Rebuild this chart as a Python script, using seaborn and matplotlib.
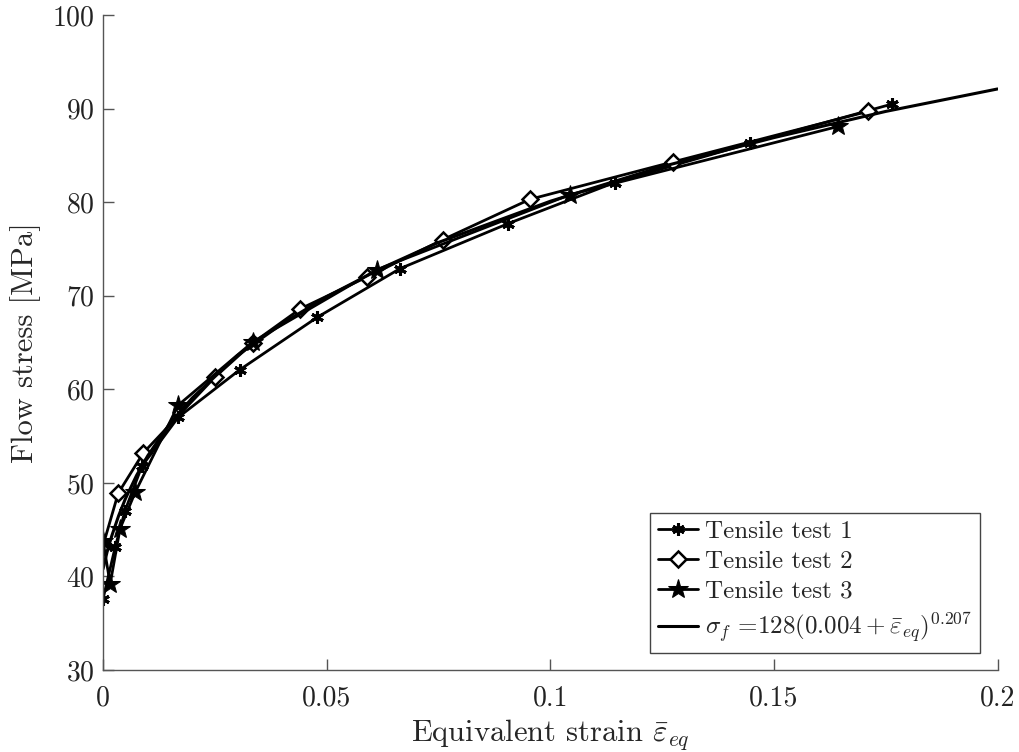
import matplotlib
matplotlib.use("Agg")
import matplotlib.pyplot as plt
import seaborn as sns

# tensile test 1 (asterisk)
strain_1 = [0.0, 0.0027, 0.0049, 0.0087, 0.0168, 0.0306, 0.0479, 0.0664, 0.0905, 0.1144, 0.1447, 0.1765]
stress_1 = [37.6, 43.1, 47.0, 51.8, 57.0, 62.1, 67.7, 72.9, 77.7, 82.1, 86.3, 90.5]

# tensile test 2 (diamond)
strain_2 = [0.0, 0.0034, 0.009, 0.025, 0.0336, 0.0441, 0.059, 0.076, 0.0954, 0.1274, 0.171]
stress_2 = [43.3, 48.9, 53.2, 61.3, 65.0, 68.6, 72.0, 76.0, 80.3, 84.3, 89.7]

# tensile test 3 (star)
strain_3 = [0.0, 0.0016, 0.0038, 0.0072, 0.0168, 0.0336, 0.0613, 0.1044, 0.1644]
stress_3 = [43.8, 39.2, 45.1, 49.0, 58.3, 65.1, 72.8, 80.8, 88.1]

# fitted flow curve
strain_fit = [0.0, 0.001, 0.002, 0.0035, 0.005, 0.0075, 0.01, 0.015, 0.02, 0.03, 0.04, 0.05,
              0.0625, 0.075, 0.1, 0.125, 0.15, 0.175, 0.2]
stress_fit = [40.8, 42.8, 44.4, 46.5, 48.3, 50.8, 52.9, 56.4, 59.1, 63.6, 67.0, 69.9,
              73.0, 75.7, 80.1, 83.8, 86.9, 89.7, 92.1]

x_ticks = [0, 0.05, 0.1, 0.15, 0.2]
x_ticklabels = ["0", "0.05", "0.1", "0.15", "0.2"]
y_ticks = [30, 40, 50, 60, 70, 80, 90, 100]

sns.set_style("ticks")
plt.rcParams["font.family"] = ["cmr10", "DejaVu Serif"]
plt.rcParams["mathtext.fontset"] = "cm"
plt.rcParams["axes.unicode_minus"] = False
plt.rcParams["axes.formatter.use_mathtext"] = True

fig = plt.figure(figsize=(10.2, 7.52), dpi=100)
ax = fig.add_axes([0.101, 0.109, 0.877, 0.871])

lw = 2.0
sns.lineplot(x=strain_1, y=stress_1, ax=ax, color="black", lw=lw, sort=False,
             marker=(6, 2, 0), markersize=9, markeredgewidth=2.2, markeredgecolor="black",
             label="Tensile test 1")
sns.lineplot(x=strain_2, y=stress_2, ax=ax, color="black", lw=lw, sort=False,
             marker="D", markersize=8, markerfacecolor="white", markeredgewidth=1.8,
             markeredgecolor="black", label="Tensile test 2")
sns.lineplot(x=strain_3, y=stress_3, ax=ax, color="black", lw=lw, sort=False,
             marker="*", markersize=15, markerfacecolor="black", markeredgecolor="black",
             label="Tensile test 3")
sns.lineplot(x=strain_fit, y=stress_fit, ax=ax, color="black", lw=2.2, sort=False,
             label=r"$\sigma_f$ =128$(0.004+\bar{\varepsilon}_{eq})^{0.207}$")

ax.set_xlim(0, 0.2)
ax.set_ylim(30, 100)
ax.set_xticks(x_ticks)
ax.set_xticklabels(x_ticklabels)
ax.set_yticks(y_ticks)
ax.tick_params(direction="in", length=8, width=1, colors="#555555", labelsize=20)
ax.tick_params(axis="x", pad=11)
ax.tick_params(axis="y", pad=6)
for lab in ax.get_xticklabels() + ax.get_yticklabels():
    lab.set_color("#222222")

sns.despine(ax=ax)
for side in ["left", "bottom"]:
    ax.spines[side].set_color("#555555")
    ax.spines[side].set_linewidth(1.0)

ax.set_xlabel(r"Equivalent strain $\bar{\varepsilon}_{eq}$", fontsize=22, labelpad=4)
ax.set_ylabel("Flow stress [MPa]", fontsize=22, labelpad=8)

leg = ax.legend(loc="lower right", fontsize=18, frameon=True, fancybox=False,
                edgecolor="#444444", framealpha=1, handlelength=1.6, handletextpad=0.3,
                borderpad=0.3, labelspacing=0.3, borderaxespad=0.7)
leg.get_frame().set_linewidth(1.0)

fig.savefig("out.png", dpi=100)
plt.close(fig)
